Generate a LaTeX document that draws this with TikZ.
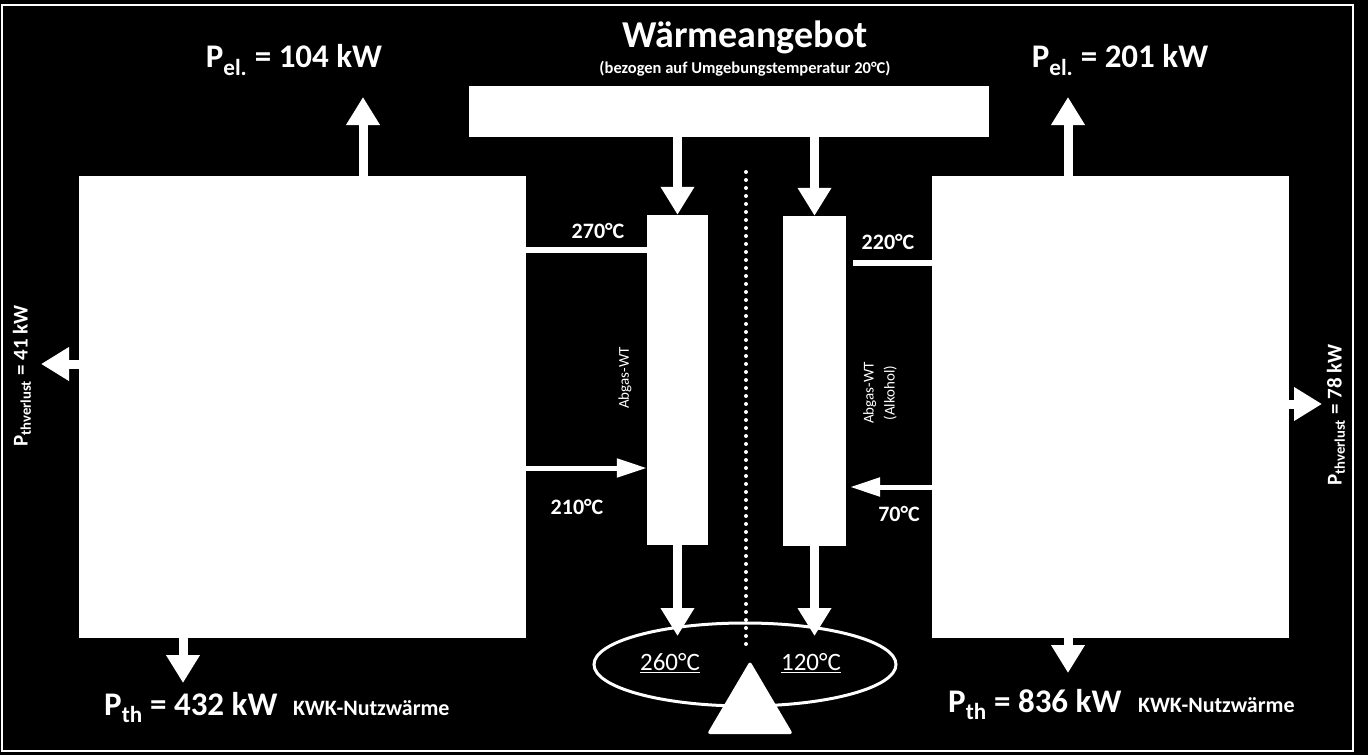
\documentclass[tikz,border=0pt]{standalone}
\usepackage{fontspec}
\setmainfont{Carlito}
\usetikzlibrary{arrows.meta,shapes.geometric}

\tikzset{
  block/.style={fill=white,draw=none,inner sep=0pt},
  fat/.style={draw=white,line width=9pt,-{Triangle[length=28pt,width=32pt]}},
  slim/.style={draw=white,line width=5pt,-{Triangle[length=30pt,width=18pt]}},
  pipe/.style={draw=white,line width=6pt},
  dots/.style={draw=white,line width=4pt,line cap=round,dash pattern=on 0pt off 8pt},
  title/.style={text=white,inner sep=0pt,font=\bfseries\fontsize{38}{44}\selectfont},
  subtitle/.style={text=white,inner sep=0pt,font=\bfseries\fontsize{16.5}{20}\selectfont},
  big/.style={text=white,inner sep=0pt,font=\bfseries\fontsize{33}{38}\selectfont},
  mid/.style={text=white,inner sep=0pt,font=\bfseries\fontsize{22}{26}\selectfont},
  temp/.style={text=white,inner sep=0pt,font=\bfseries\fontsize{22}{26}\selectfont},
  loss/.style={text=white,inner sep=0pt,rotate=90,font=\bfseries\fontsize{21}{25}\selectfont},
  pooltxt/.style={text=white,inner sep=0pt,font=\fontsize{25}{30}\selectfont},
  wtlabel/.style={text=white,inner sep=0pt,rotate=90,align=center,font=\fontsize{15}{21}\selectfont}
}

\begin{document}
\begin{tikzpicture}[x=1pt,y=-1pt]
\fill[black] (0,0) rectangle (1368,755);
\useasboundingbox (0,0) rectangle (1368,755);
\draw[white,line width=2pt] (2,5) rectangle (1353,751);

% heat supply
\node[title] (head) at (745,37) {Wärmeangebot};
\node[subtitle] (headsub) at (745,69) {(bezogen auf Umgebungstemperatur 20°C)};
\node[block,minimum width=520pt,minimum height=51pt] (bar) at (729,111.5) {};

% engines and exhaust heat exchangers
\node[block,minimum width=447pt,minimum height=462pt] (lbox) at (302.5,407) {};
\node[block,minimum width=357pt,minimum height=462pt] (rbox) at (1110.5,407) {};
\node[block,minimum width=61pt,minimum height=330pt] (wtl) at (677.5,380) {};
\node[block,minimum width=63pt,minimum height=330pt] (wtr) at (814.5,381) {};
\node[wtlabel] (wtllbl) at (625,378) {Abgas-WT};
\node[wtlabel] (wtrlbl) at (880,393) {Abgas-WT\\(Alkohol)};

\draw[fat] (wtl.north |- bar.south) -- (wtl.north);
\draw[fat] (wtr.north |- bar.south) -- (wtr.north);

% exhaust lines
\node[temp] (t270) at (598,231) {270°C};
\node[temp] (t210) at (577,507) {210°C};
\node[temp] (t220) at (888,242) {220°C};
\node[temp] (t70) at (899,514) {70°C};
\draw[pipe] (lbox.east |- 0,250) -- (wtl.east |- 0,250);
\draw[slim] (lbox.east |- 0,468) -- (wtl.west |- 0,468);
\coordinate (rgap) at (853,263);
\draw[pipe] (rbox.west |- rgap) -- (rgap);
\coordinate (rtip) at (850,487);
\draw[slim] (rbox.west |- rtip) -- (rtip);

% exhaust to surroundings
\draw[dots] (746,172) -- (746,646);
\node[draw=white,line width=3pt,ellipse,inner sep=0pt,
  minimum width=302pt,minimum height=83pt] (pool) at (745,664.5) {};
\coordinate (lpool) at (678,636);
\coordinate (rpool) at (815,636);
\draw[fat] (wtl.south) -- (wtl.south |- lpool);
\draw[fat] (wtr.south) -- (wtr.south |- rpool);
\node[pooltxt] (t260) at (670,663) {\underline{260°C}};
\node[pooltxt] (t120) at (811,663) {\underline{120°C}};
\fill[white,rounded corners=3pt] (750,661) -- (793,734) -- (707,734) -- cycle;

% electric power
\node[big] (pell) at (294,60) {P\textsubscript{el.} = 104 kW};
\node[big] (pelr) at (1120,60) {P\textsubscript{el.} = 201 kW};
\coordinate (pelltip) at (363,97);
\coordinate (pelrtip) at (1068,97);
\draw[fat] (pelltip |- lbox.north) -- (pelltip);
\draw[fat] (pelrtip |- rbox.north) -- (pelrtip);

% useful heat
\node[big,anchor=base west] (pthl) at (104,715) {P\textsubscript{th} = 432 kW};
\node[mid,anchor=base west] (kwkl) at (293,715) {KWK-Nutzwärme};
\node[big,anchor=base west] (pthr) at (948,712) {P\textsubscript{th} = 836 kW};
\node[mid,anchor=base west] (kwkr) at (1138,712) {KWK-Nutzwärme};
\coordinate (pthltip) at (183,683);
\coordinate (pthrtip) at (1068,673);
\draw[fat] (pthltip |- lbox.south) -- (pthltip);
\draw[fat] (pthrtip |- rbox.south) -- (pthrtip);

% heat losses
\node[loss] (lossl) at (22,376) {P\textsubscript{thverlust} = 41 kW};
\node[loss] (lossr) at (1336,415) {P\textsubscript{thverlust} = 78 kW};
\coordinate (losslTip) at (41,364);
\coordinate (lossrTip) at (1322,404);
\draw[fat] (lbox.west |- losslTip) -- (losslTip);
\draw[fat] (rbox.east |- lossrTip) -- (lossrTip);
\end{tikzpicture}
\end{document}
